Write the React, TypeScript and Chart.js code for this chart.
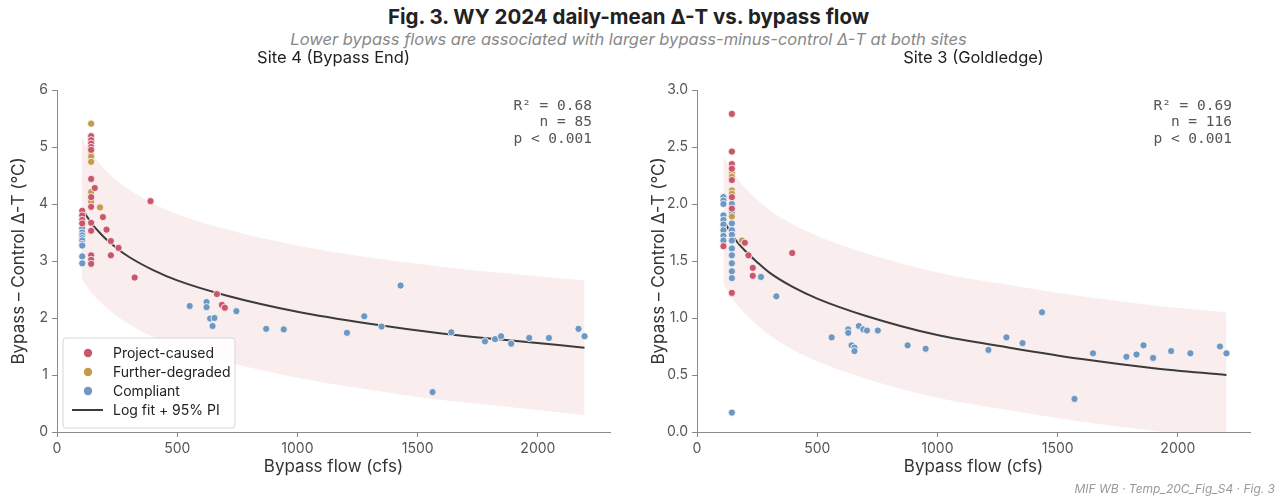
import React, { useEffect, useRef } from 'react';
import { Chart, registerables } from 'chart.js';

Chart.register(...registerables);

const SANS = 'Inter, "DejaVu Sans", sans-serif';
const MONO = '"DejaVu Sans Mono", monospace';

const RED = '#C9566A';
const GOLD = '#C49A4C';
const BLUE = '#6E97C2';
const FIT = '#3B3B3B';
const BAND = 'rgba(200, 90, 100, 0.11)';

// ---------- Site 4 (Bypass End) ----------
const s4ProjectX = [142, 142, 142, 142, 142, 142, 142, 142, 142, 142, 142, 142, 142, 157, 191, 206, 224, 256, 224, 323, 389, 105, 105, 105, 105, 665, 686, 698];
const s4ProjectY = [5.19, 5.12, 5.06, 5.0, 4.95, 4.44, 4.12, 3.95, 3.67, 3.53, 3.1, 3.02, 2.95, 4.28, 3.77, 3.55, 3.35, 3.23, 3.1, 2.71, 4.05, 3.88, 3.8, 3.72, 3.66, 2.42, 2.23, 2.18];
const s4DegradedX = [142, 142, 142, 142, 142, 142, 179];
const s4DegradedY = [5.41, 4.89, 4.83, 4.74, 4.21, 4.04, 3.94];
const s4CompliantX = [105, 105, 105, 105, 105, 105, 105, 105, 105, 552, 622, 622, 637, 655, 647, 746, 870, 943, 1206, 1278, 1350, 1429, 1562, 1640, 1780, 1822, 1847, 1889, 1964, 2046, 2169, 2194];
const s4CompliantY = [3.57, 3.5, 3.45, 3.4, 3.36, 3.3, 3.27, 3.08, 2.96, 2.21, 2.28, 2.19, 1.99, 2.0, 1.86, 2.12, 1.81, 1.8, 1.74, 2.03, 1.85, 2.57, 0.7, 1.75, 1.59, 1.63, 1.68, 1.55, 1.65, 1.65, 1.81, 1.68];
const s4FitX = [103, 120, 142, 170, 200, 250, 300, 400, 500, 700, 1000, 1300, 1600, 1900, 2194];
const s4FitY = [3.93, 3.81, 3.67, 3.53, 3.4, 3.22, 3.07, 2.84, 2.66, 2.4, 2.11, 1.9, 1.73, 1.6, 1.48];
const s4PiUpper = [5.17, 5.04, 4.89, 4.74, 4.6, 4.41, 4.25, 4.01, 3.82, 3.56, 3.27, 3.06, 2.9, 2.77, 2.66];
const s4PiLower = [2.69, 2.58, 2.45, 2.32, 2.2, 2.03, 1.89, 1.67, 1.5, 1.24, 0.95, 0.74, 0.56, 0.43, 0.3];
const s4Stats = ['R² = 0.68', 'n = 85', 'p < 0.001'];

// ---------- Site 3 (Goldledge) ----------
const s3ProjectX = [145, 145, 145, 145, 145, 145, 145, 145, 110, 199, 214, 232, 232, 396];
const s3ProjectY = [2.79, 2.46, 2.35, 2.31, 2.21, 2.06, 1.96, 1.22, 1.63, 1.66, 1.55, 1.44, 1.37, 1.57];
const s3DegradedX = [145, 145, 145, 145, 145, 187];
const s3DegradedY = [2.27, 2.24, 2.12, 2.09, 1.89, 1.68];
const s3CompliantX = [110, 110, 110, 110, 110, 110, 110, 110, 110, 145, 145, 145, 145, 145, 145, 145, 145, 145, 145, 145, 145, 266, 330, 560, 629, 629, 643, 655, 655, 673, 692, 707, 752, 876, 951, 1212, 1287, 1354, 1435, 1570, 1647, 1786, 1828, 1857, 1897, 1972, 2052, 2175, 2202];
const s3CompliantY = [2.06, 2.03, 2.0, 1.9, 1.86, 1.82, 1.77, 1.72, 1.68, 2.0, 1.92, 1.83, 1.77, 1.73, 1.68, 1.61, 1.55, 1.48, 1.41, 1.35, 0.17, 1.36, 1.19, 0.83, 0.9, 0.87, 0.76, 0.74, 0.71, 0.93, 0.9, 0.89, 0.89, 0.76, 0.73, 0.72, 0.83, 0.78, 1.05, 0.29, 0.69, 0.66, 0.68, 0.76, 0.65, 0.71, 0.69, 0.75, 0.69];
const s3FitX = [110, 145, 170, 200, 250, 300, 400, 500, 700, 1000, 1300, 1600, 1900, 2202];
const s3FitY = [1.86, 1.73, 1.66, 1.59, 1.49, 1.4, 1.27, 1.17, 1.02, 0.85, 0.74, 0.64, 0.56, 0.5];
const s3PiUpper = [2.42, 2.29, 2.22, 2.14, 2.04, 1.95, 1.82, 1.72, 1.57, 1.4, 1.29, 1.19, 1.11, 1.05];
const s3PiLower = [1.3, 1.17, 1.11, 1.04, 0.94, 0.85, 0.72, 0.62, 0.47, 0.3, 0.19, 0.09, 0.01, -0.05];
const s3Stats = ['R² = 0.69', 'n = 116', 'p < 0.001'];

const xTicks = [0, 500, 1000, 1500, 2000];
const X_MAX = 2300;
const Y_LABEL = 'Bypass – Control Δ-T (°C)';
const X_LABEL = 'Bypass flow (cfs)';
const LEGEND_LABELS = ['Project-caused', 'Further-degraded', 'Compliant', 'Log fit + 95% PI'];

const zip = (xs: number[], ys: number[]) => xs.map((x, i) => ({ x, y: ys[i] }));

type SiteDef = {
  title: string;
  projX: number[]; projY: number[];
  degX: number[]; degY: number[];
  compX: number[]; compY: number[];
  fitX: number[]; fitY: number[];
  up: number[]; lo: number[];
  stats: string[];
  yMax: number; yStep: number; yDecimals: number;
  legend: boolean;
};

const scatterDs = (label: string, color: string, xs: number[], ys: number[]) => ({
  label,
  data: zip(xs, ys),
  backgroundColor: color,
  borderColor: '#ffffff',
  borderWidth: 0.8,
  pointRadius: 3.6,
  showLine: false,
  order: 0,
});

function makeOverlay(site: SiteDef) {
  return {
    id: 'overlay',
    afterDraw(chart: any) {
      const { ctx, chartArea: ca } = chart;
      ctx.save();
      // subplot title
      ctx.fillStyle = '#222';
      ctx.font = `16.5px ${SANS}`;
      ctx.textAlign = 'center';
      ctx.textBaseline = 'middle';
      ctx.fillText(site.title, (ca.left + ca.right) / 2, ca.top - 32);
      // stats
      ctx.font = `14.5px ${MONO}`;
      ctx.fillStyle = '#555';
      ctx.textAlign = 'right';
      site.stats.forEach((s, i) => ctx.fillText(s, ca.right - 18, ca.top + 16 + i * 16.5));
      if (site.legend) {
        const bx = ca.left + 6;
        const by = ca.bottom - 94;
        const bw = 172;
        const bh = 90;
        ctx.beginPath();
        ctx.roundRect(bx, by, bw, bh, 3);
        ctx.fillStyle = 'rgba(255,255,255,0.85)';
        ctx.fill();
        ctx.strokeStyle = '#d6d6d6';
        ctx.lineWidth = 1;
        ctx.stroke();
        const colors = [RED, GOLD, BLUE];
        ctx.font = `14px ${SANS}`;
        ctx.textAlign = 'left';
        ctx.textBaseline = 'middle';
        LEGEND_LABELS.forEach((lab, i) => {
          const cy = by + 15 + i * 19;
          if (i < 3) {
            ctx.beginPath();
            ctx.arc(bx + 25, cy, 4.2, 0, Math.PI * 2);
            ctx.fillStyle = colors[i];
            ctx.fill();
          } else {
            ctx.beginPath();
            ctx.moveTo(bx + 9, cy);
            ctx.lineTo(bx + 40, cy);
            ctx.strokeStyle = FIT;
            ctx.lineWidth = 2;
            ctx.stroke();
          }
          ctx.fillStyle = '#222';
          ctx.fillText(lab, bx + 50, cy + 0.5);
        });
      }
      ctx.restore();
    },
  };
}

function SitePanel({ site, left }: { site: SiteDef; left: number }) {
  const ref = useRef<HTMLCanvasElement | null>(null);
  useEffect(() => {
    if (!ref.current) return;
    const tickFont = { size: 14, family: SANS };
    const chart = new Chart(ref.current, {
      type: 'scatter',
      data: {
        datasets: [
          scatterDs(LEGEND_LABELS[0], RED, site.projX, site.projY),
          scatterDs(LEGEND_LABELS[1], GOLD, site.degX, site.degY),
          scatterDs(LEGEND_LABELS[2], BLUE, site.compX, site.compY),
          {
            label: 'fit',
            data: zip(site.fitX, site.fitY),
            showLine: true,
            borderColor: FIT,
            borderWidth: 2,
            pointRadius: 0,
            cubicInterpolationMode: 'monotone',
            fill: false,
            order: 1,
          },
          {
            label: 'pi-upper',
            data: zip(site.fitX, site.up),
            showLine: true,
            borderWidth: 0,
            borderColor: 'rgba(0,0,0,0)',
            pointRadius: 0,
            cubicInterpolationMode: 'monotone',
            backgroundColor: BAND,
            fill: '+1',
            order: 2,
          },
          {
            label: 'pi-lower',
            data: zip(site.fitX, site.lo),
            showLine: true,
            borderWidth: 0,
            borderColor: 'rgba(0,0,0,0)',
            pointRadius: 0,
            cubicInterpolationMode: 'monotone',
            fill: false,
            order: 2,
          },
        ] as any,
      },
      options: {
        animation: false,
        responsive: false,
        maintainAspectRatio: false,
        events: [],
        layout: { padding: { top: 90, right: 15, bottom: 0, left: 0 } },
        plugins: { legend: { display: false }, tooltip: { enabled: false }, title: { display: false } },
        scales: {
          x: {
            type: 'linear',
            min: 0,
            max: X_MAX,
            afterFit: (s: any) => { s.height = 67; },
            afterBuildTicks: (s: any) => { s.ticks = xTicks.map((v) => ({ value: v })); },
            ticks: { color: '#555', font: tickFont, padding: 3, maxRotation: 0, autoSkip: false, callback: (v: any) => String(v) },
            grid: { display: true, drawOnChartArea: false, drawTicks: true, tickLength: 5, color: '#8a8a8a', tickColor: '#8a8a8a' },
            border: { display: true, color: '#8a8a8a', width: 1 },
            title: { display: true, text: X_LABEL, color: '#333', font: { size: 17, family: SANS }, padding: { top: 0, bottom: 22 } },
          },
          y: {
            type: 'linear',
            min: 0,
            max: site.yMax,
            afterFit: (s: any) => { s.width = 57; },
            ticks: {
              stepSize: site.yStep,
              color: '#555',
              font: tickFont,
              padding: 4,
              callback: (v: any) => Number(v).toFixed(site.yDecimals),
            },
            grid: { display: true, drawOnChartArea: false, drawTicks: true, tickLength: 5, color: '#8a8a8a', tickColor: '#8a8a8a' },
            border: { display: true, color: '#8a8a8a', width: 1 },
            title: { display: true, text: Y_LABEL, color: '#333', font: { size: 17, family: SANS }, padding: { top: 9, bottom: 0 } },
          },
        },
      } as any,
      plugins: [makeOverlay(site)],
    });
    return () => chart.destroy();
  }, [site]);
  return (
    <canvas
      ref={ref}
      width={625}
      height={499}
      style={{ position: 'absolute', left, top: 0, width: 625, height: 499 }}
    />
  );
}

const site4: SiteDef = {
  title: 'Site 4 (Bypass End)',
  projX: s4ProjectX, projY: s4ProjectY,
  degX: s4DegradedX, degY: s4DegradedY,
  compX: s4CompliantX, compY: s4CompliantY,
  fitX: s4FitX, fitY: s4FitY, up: s4PiUpper, lo: s4PiLower,
  stats: s4Stats, yMax: 6, yStep: 1, yDecimals: 0, legend: true,
};

const site3: SiteDef = {
  title: 'Site 3 (Goldledge)',
  projX: s3ProjectX, projY: s3ProjectY,
  degX: s3DegradedX, degY: s3DegradedY,
  compX: s3CompliantX, compY: s3CompliantY,
  fitX: s3FitX, fitY: s3FitY, up: s3PiUpper, lo: s3PiLower,
  stats: s3Stats, yMax: 3, yStep: 0.5, yDecimals: 1, legend: false,
};

export default function App() {
  return (
    <div style={{ position: 'absolute', left: 0, top: 0, width: 1285, height: 499, overflow: 'hidden', background: '#fff' }}>
      <div style={{ position: 'absolute', left: 0, top: 4, width: 1257, textAlign: 'center', fontFamily: SANS, fontWeight: 700, fontSize: 20.5, lineHeight: '26px', color: '#222' }}>
        Fig. 3. WY 2024 daily-mean Δ-T vs. bypass flow
      </div>
      <div style={{ position: 'absolute', left: 0, top: 29, width: 1257, textAlign: 'center', fontFamily: SANS, fontStyle: 'italic', fontSize: 16.5, lineHeight: '20px', color: '#888' }}>
        Lower bypass flows are associated with larger bypass-minus-control Δ-T at both sites
      </div>
      <SitePanel site={site4} left={0} />
      <SitePanel site={site3} left={640} />
      <div style={{ position: 'absolute', right: 10, top: 482, fontFamily: SANS, fontStyle: 'italic', fontSize: 12, lineHeight: '14px', color: '#999' }}>
        MIF WB · Temp_20C_Fig_S4 · Fig. 3
      </div>
    </div>
  );
}
